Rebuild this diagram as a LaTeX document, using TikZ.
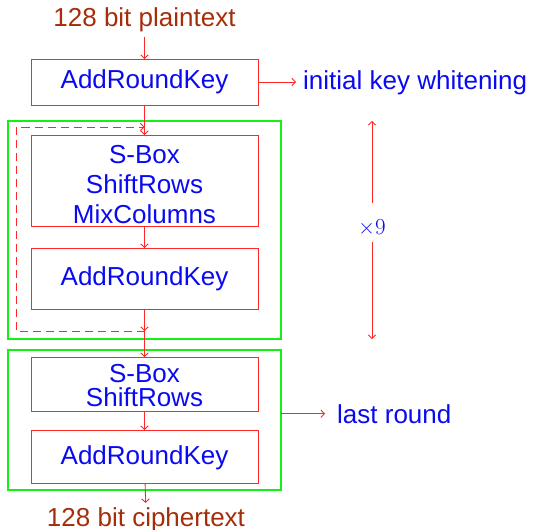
\documentclass[tikz,border=0pt]{standalone}
\usepackage{fontspec}
\setmainfont{Liberation Sans}
\newfontfamily\lmfont{Latin Modern Roman}
\usetikzlibrary{arrows.meta}
\definecolor{flowred}{RGB}{255,40,40}
\definecolor{roundgreen}{RGB}{20,240,20}
\definecolor{opblue}{RGB}{10,10,240}
\definecolor{iobrown}{RGB}{165,45,10}
\tikzset{
  x=1pt, y=-1pt,
  flow/.style={draw=flowred, line width=0.9pt, -{Straight Barb[length=3.5pt,width=7.5pt]}},
  opbox/.style={draw=flowred, line width=1pt, minimum width=227pt, inner sep=0pt, outer sep=0pt},
  roundbox/.style={draw=roundgreen, line width=1.3pt, minimum width=273pt, inner sep=0pt, outer sep=0pt},
  optext/.style={text=opblue, font=\fontsize{26}{30}\selectfont, inner sep=4pt, anchor=base},
  iotext/.style={text=iobrown, font=\fontsize{26}{30}\selectfont, inner sep=4pt, anchor=base},
  loopline/.style={draw=flowred, line width=0.9pt, dash pattern=on 8pt off 5pt,
    -{Straight Barb[length=3.5pt,width=7.5pt]}},
}
\begin{document}
\begin{tikzpicture}
\useasboundingbox (0,0) rectangle (533,530);

% round frames
\node[roundbox, minimum height=218pt] (round1) at (144.5,230) {};
\node[roundbox, minimum height=140pt] (round2) at (144.5,420) {};

% operation boxes
\node[opbox, minimum height=46pt] (ark1) at (144.5,82) {};
\node[opbox, minimum height=91pt] (sb1) at (144.5,180.5) {};
\node[opbox, minimum height=61pt] (ark2) at (144.5,278.5) {};
\node[opbox, minimum height=54pt] (sb2) at (144.5,384) {};
\node[opbox, minimum height=53pt] (ark3) at (144.5,456.5) {};

% box texts
\node[optext] (ark1t) at (144.5,88.5) {AddRoundKey};
\node[optext] (sb1a) at (144.5,163) {S-Box};
\node[optext] (sb1b) at (144.5,193) {ShiftRows};
\node[optext] (sb1c) at (144.5,223) {MixColumns};
\node[optext] (ark2t) at (144.5,285) {AddRoundKey};
\node[optext, inner sep=0pt] (sb2a) at (144.5,382) {S-Box};
\node[optext, inner sep=0pt] (sb2b) at (144.5,406) {ShiftRows};
\node[optext] (ark3t) at (144.5,464) {AddRoundKey};

% input and output
\node[iotext] (pt) at (144.5,27) {128 bit plaintext};
\node[iotext] (ct) at (146,526) {128 bit ciphertext};

% side labels
\node[optext, anchor=base west] (ikw) at (299,89) {initial key whitening};
\node[optext, anchor=base west] (lr) at (333,423) {last round};
\node[text=opblue, font=\lmfont\fontsize{23}{27}\selectfont, inner sep=0pt,
      minimum height=39pt, text height=23pt, text depth=0pt] (x9) at (372,222.5) {×9};
\coordinate (x9top) at (372,121);
\coordinate (x9bot) at (372,339);

% loop coordinates
\coordinate (looptop) at (144.5,127);
\coordinate (loopbot) at (144.5,331);
\coordinate (loopbl) at (16,331);
\coordinate (looptl) at (16,127);

% data path
\draw[flow] (pt) -- (ark1);
\draw[flow] (ark1) -- (sb1);
\draw[flow] (sb1) -- (ark2);
\draw[flow] (ark2) -- (loopbot);
\draw[flow] (loopbot) -- (sb2);
\draw[flow] (sb2) -- (ark3);
\draw[flow] (ark3) -- (ct);

% repetition loop
\draw[loopline] (loopbot) -- (loopbl) -- (looptl) -- (looptop);

% annotations
\draw[flow, shorten >=3pt] (ark1.east) -- (ark1.east -| ikw.west);
\draw[flow, shorten >=8pt] (round2.east |- lr.west) -- (lr.west);
\draw[flow] (x9.north) -- (x9top);
\draw[flow] (x9.south) -- (x9bot);
\end{tikzpicture}
\end{document}
